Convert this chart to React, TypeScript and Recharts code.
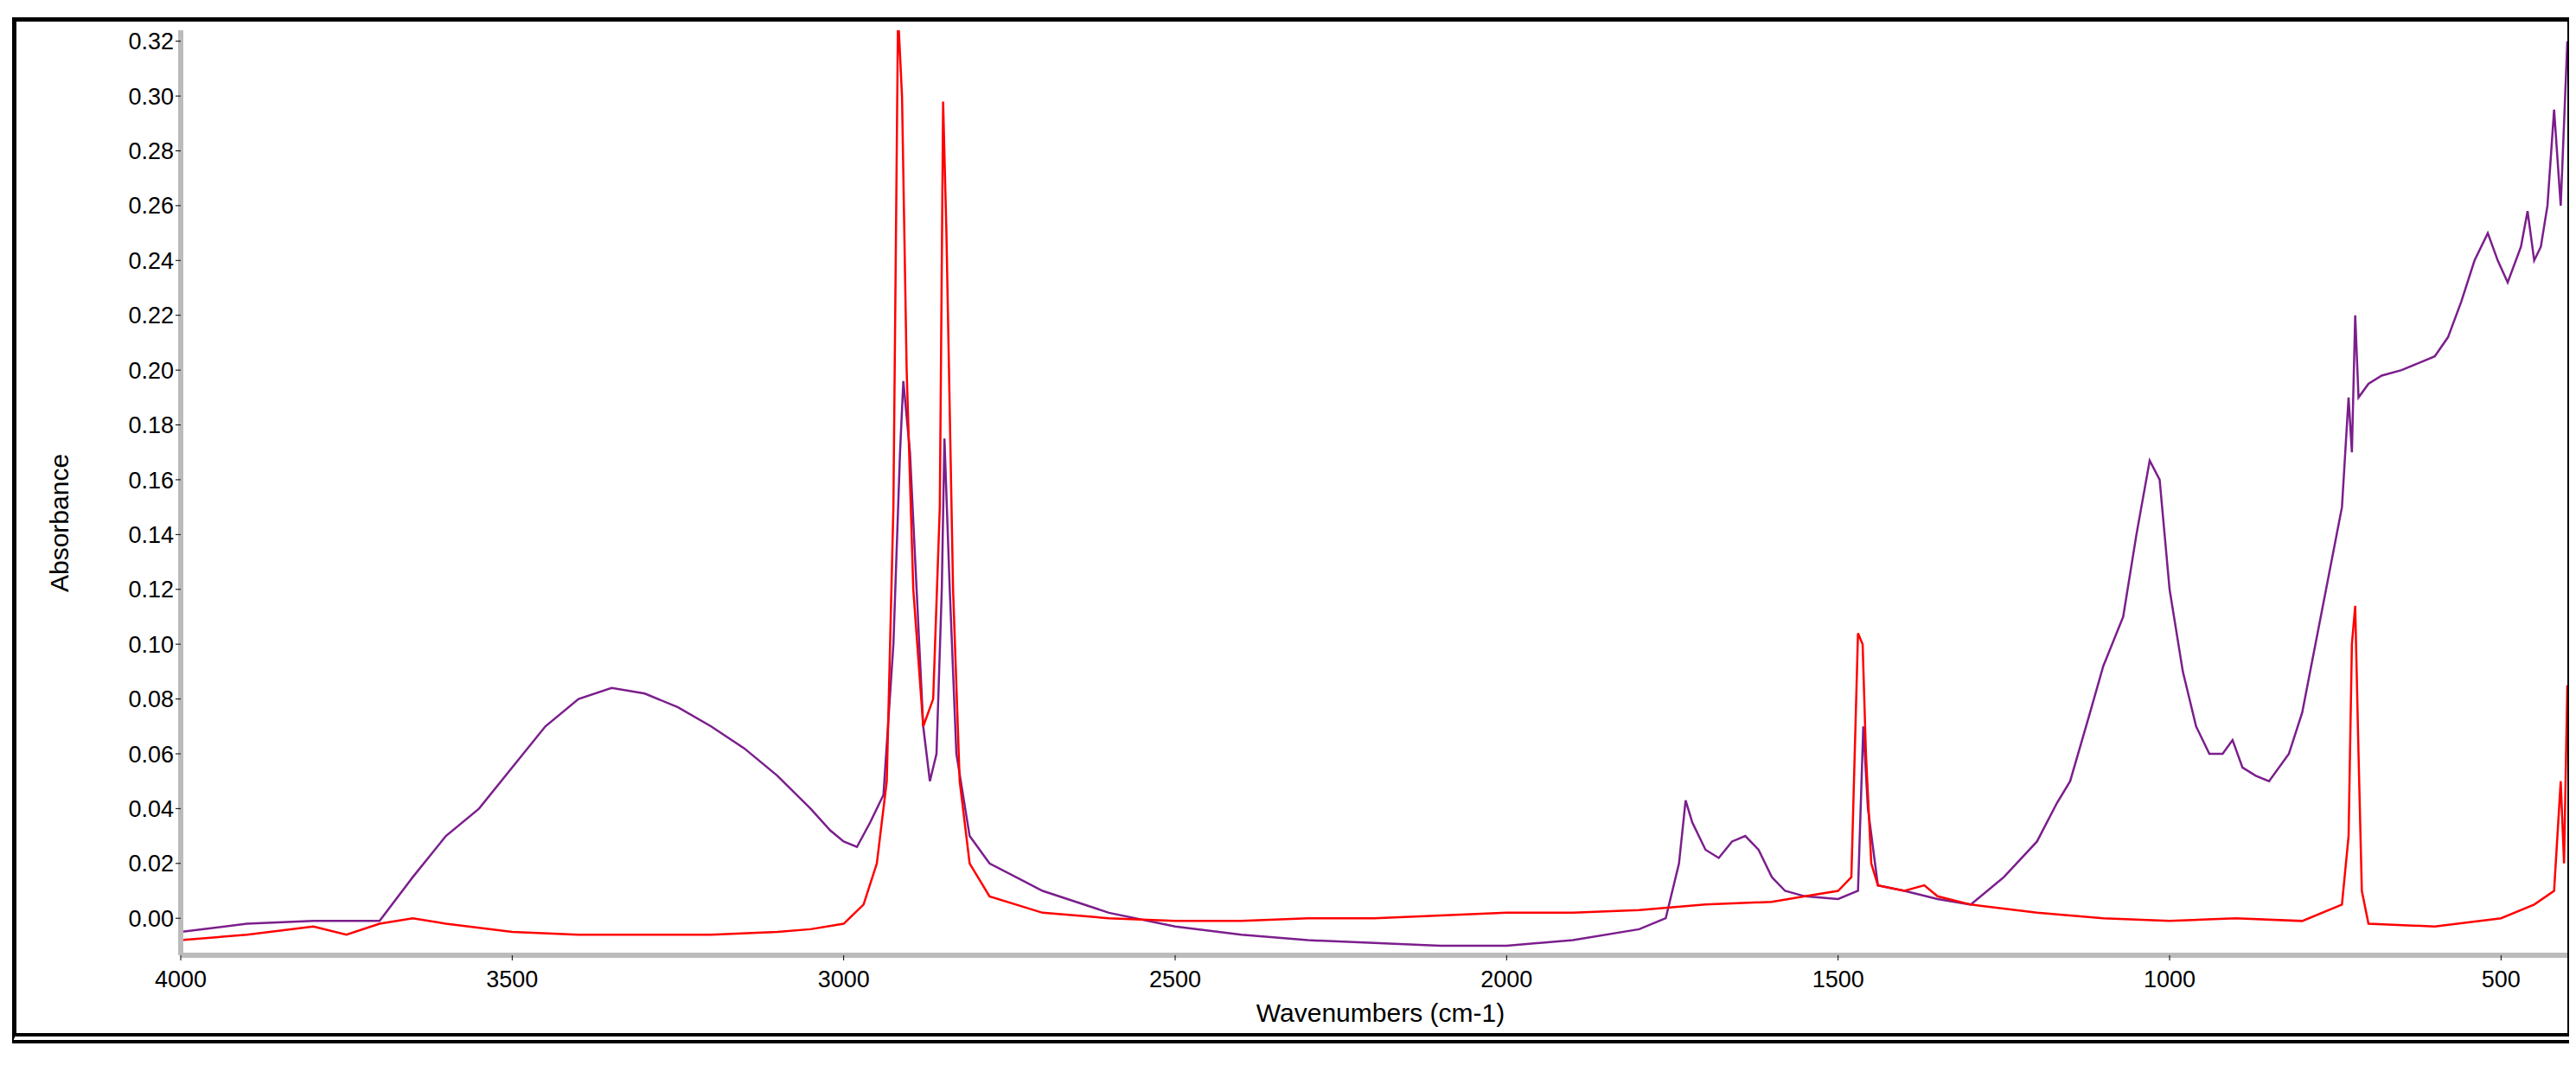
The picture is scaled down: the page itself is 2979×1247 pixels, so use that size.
import { LineChart, Line, XAxis, YAxis } from 'recharts';

const purpleX = [4000, 3900, 3800, 3700, 3650, 3600, 3550, 3500, 3450, 3400, 3350, 3300, 3250, 3200, 3150, 3100, 3050, 3020, 3000, 2980, 2960, 2940, 2925, 2915, 2910, 2900, 2890, 2880, 2870, 2860, 2852, 2848, 2840, 2830, 2810, 2780, 2700, 2600, 2500, 2400, 2300, 2200, 2100, 2000, 1900, 1800, 1760, 1740, 1730, 1720, 1700, 1680, 1660, 1640, 1620, 1600, 1580, 1550, 1500, 1470, 1462, 1455, 1440, 1400, 1350, 1300, 1250, 1200, 1170, 1150, 1120, 1100, 1070, 1050, 1030, 1015, 1000, 980, 960, 940, 920, 905, 890, 870, 850, 820, 800, 780, 760, 740, 730, 725, 720, 715, 700, 680, 650, 620, 600, 580, 560, 540, 520, 505, 490, 470, 460, 450, 440, 430, 420, 410, 400];
const purpleY = [-0.005, -0.002, -0.001, -0.001, 0.015, 0.03, 0.04, 0.055, 0.07, 0.08, 0.084, 0.082, 0.077, 0.07, 0.062, 0.052, 0.04, 0.032, 0.028, 0.026, 0.035, 0.045, 0.1, 0.17, 0.196, 0.17, 0.12, 0.07, 0.05, 0.06, 0.12, 0.175, 0.12, 0.06, 0.03, 0.02, 0.01, 0.002, -0.003, -0.006, -0.008, -0.009, -0.01, -0.01, -0.008, -0.004, 0.0, 0.02, 0.043, 0.035, 0.025, 0.022, 0.028, 0.03, 0.025, 0.015, 0.01, 0.008, 0.007, 0.01, 0.07, 0.04, 0.012, 0.01, 0.007, 0.005, 0.015, 0.028, 0.042, 0.05, 0.075, 0.092, 0.11, 0.14, 0.167, 0.16, 0.12, 0.09, 0.07, 0.06, 0.06, 0.065, 0.055, 0.052, 0.05, 0.06, 0.075, 0.1, 0.125, 0.15, 0.19, 0.17, 0.22, 0.19, 0.195, 0.198, 0.2, 0.203, 0.205, 0.212, 0.225, 0.24, 0.25, 0.24, 0.232, 0.245, 0.258, 0.24, 0.245, 0.26, 0.295, 0.26, 0.32];

const redX = [4000, 3900, 3800, 3750, 3700, 3650, 3600, 3500, 3400, 3300, 3200, 3100, 3050, 3000, 2970, 2950, 2935, 2925, 2918, 2912, 2905, 2895, 2880, 2865, 2855, 2850, 2845, 2835, 2825, 2810, 2780, 2700, 2600, 2500, 2400, 2300, 2200, 2100, 2000, 1900, 1800, 1750, 1700, 1600, 1550, 1500, 1480, 1470, 1463, 1458, 1450, 1440, 1400, 1370, 1350, 1300, 1200, 1100, 1000, 900, 800, 740, 730, 725, 720, 715, 710, 700, 600, 500, 450, 420, 410, 405, 400];
const redY = [-0.008, -0.006, -0.003, -0.006, -0.002, 0.0, -0.002, -0.005, -0.006, -0.006, -0.006, -0.005, -0.004, -0.002, 0.005, 0.02, 0.05, 0.15, 0.33, 0.3, 0.2, 0.12, 0.07, 0.08, 0.15, 0.298, 0.25, 0.12, 0.05, 0.02, 0.008, 0.002, 0.0, -0.001, -0.001, 0.0, 0.0, 0.001, 0.002, 0.002, 0.003, 0.004, 0.005, 0.006, 0.008, 0.01, 0.015, 0.104, 0.1, 0.06, 0.02, 0.012, 0.01, 0.012, 0.008, 0.005, 0.002, 0.0, -0.001, 0.0, -0.001, 0.005, 0.03, 0.1, 0.114, 0.06, 0.01, -0.002, -0.003, 0.0, 0.005, 0.01, 0.05, 0.02, 0.085];

const xTicks = [4000, 3500, 3000, 2500, 2000, 1500, 1000, 500];
const yTicks = [0, 0.02, 0.04, 0.06, 0.08, 0.1, 0.12, 0.14, 0.16, 0.18, 0.2, 0.22, 0.24, 0.26, 0.28, 0.3, 0.32];

const purple = purpleX.map((x, i) => ({ x, y: purpleY[i] }));
const red = redX.map((x, i) => ({ x, y: redY[i] }));

const tick = { fill: '#000', fontSize: 27, fontFamily: 'Liberation Sans, Arial' };

export default function App() {
  return (
    <div style={{ width: 2950, height: 1170, border: '5px solid #000', borderBottom: '12px double #000', marginTop: 12, marginLeft: 6, position: 'relative', fontFamily: 'Liberation Sans, Arial', background: '#fff' }}>
      <LineChart width={2950} height={1170} margin={{ top: 10, right: 0, left: 50, bottom: 60 }}>
        <XAxis type="number" dataKey="x" domain={[400, 4000]} reversed allowDataOverflow ticks={xTicks} tick={tick} tickLine={{ stroke: '#000' }} axisLine={{ stroke: '#bbb', strokeWidth: 6 }} tickMargin={12} />
        <YAxis type="number" dataKey="y" domain={[-0.0135, 0.324]} allowDataOverflow ticks={yTicks} tick={tick} tickFormatter={(v) => v.toFixed(2)} tickLine={{ stroke: '#000' }} axisLine={{ stroke: '#bbb', strokeWidth: 6 }} width={140} />
        <Line data={purple} dataKey="y" type="linear" stroke="#7B1E8C" strokeWidth={2.5} dot={false} isAnimationActive={false} />
        <Line data={red} dataKey="y" type="linear" stroke="#FF0000" strokeWidth={2.5} dot={false} isAnimationActive={false} />
      </LineChart>
      <div style={{ position: 'absolute', left: 20, top: 580, transform: 'translate(0,-50%) rotate(-90deg)', transformOrigin: 'center', fontSize: 30, width: 60, textAlign: 'center', whiteSpace: 'nowrap', display: 'flex', justifyContent: 'center' }}>Absorbance</div>
      <div style={{ position: 'absolute', left: 205, right: 0, bottom: 6, textAlign: 'center', fontSize: 30 }}>Wavenumbers (cm-1)</div>
    </div>
  );
}
